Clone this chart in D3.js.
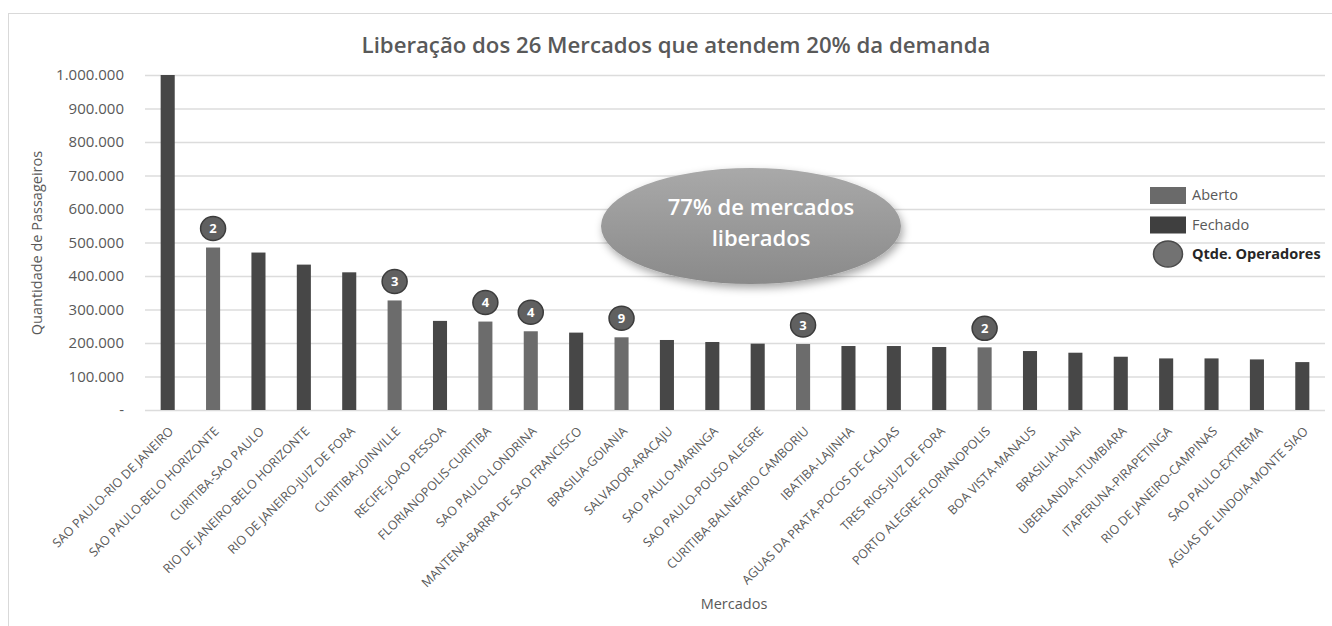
<!DOCTYPE html>
<html>
<head>
<meta charset="utf-8">
<script src="https://cdn.jsdelivr.net/npm/d3@7"></script>
<style>
  html, body { margin: 0; padding: 0; background: #ffffff; }
  svg { display: block; font-family: "Open Sans", "DejaVu Sans", sans-serif; }
</style>
</head>
<body>
<svg id="chart" width="1332" height="626"></svg>
<script>
// Markets ordered by passenger volume
const mercados = [
  "SAO PAULO-RIO DE JANEIRO", "SAO PAULO-BELO HORIZONTE", "CURITIBA-SAO PAULO",
  "RIO DE JANEIRO-BELO HORIZONTE", "RIO DE JANEIRO-JUIZ DE FORA", "CURITIBA-JOINVILLE",
  "RECIFE-JOAO PESSOA", "FLORIANOPOLIS-CURITIBA", "SAO PAULO-LONDRINA",
  "MANTENA-BARRA DE SAO FRANCISCO", "BRASILIA-GOIANIA", "SALVADOR-ARACAJU",
  "SAO PAULO-MARINGA", "SAO PAULO-POUSO ALEGRE", "CURITIBA-BALNEARIO CAMBORIU",
  "IBATIBA-LAJINHA", "AGUAS DA PRATA-POCOS DE CALDAS", "TRES RIOS-JUIZ DE FORA",
  "PORTO ALEGRE-FLORIANOPOLIS", "BOA VISTA-MANAUS", "BRASILIA-UNAI",
  "UBERLANDIA-ITUMBIARA", "ITAPERUNA-PIRAPETINGA", "RIO DE JANEIRO-CAMPINAS",
  "SAO PAULO-EXTREMA", "AGUAS DE LINDOIA-MONTE SIAO"
];

// Passengers per market
const passageiros = [
  1000000, 485000, 470000, 434000, 411000, 327000,
  266000, 264000, 235000, 231000, 217000, 209000,
  203000, 198000, 197000, 191000, 191000, 188000,
  187000, 176000, 171000, 159000, 154000, 154000,
  151000, 143000
];

// Market status: "Aberto" (released) or "Fechado" (closed)
const situacao = [
  "Fechado", "Aberto", "Fechado", "Fechado", "Fechado", "Aberto",
  "Fechado", "Aberto", "Aberto", "Fechado", "Aberto", "Fechado",
  "Fechado", "Fechado", "Aberto", "Fechado", "Fechado", "Fechado",
  "Aberto", "Fechado", "Fechado", "Fechado", "Fechado", "Fechado",
  "Fechado", "Fechado"
];

// Number of operators on released markets
const operadores = [
  null, 2, null, null, null, 3,
  null, 4, 4, null, 9, null,
  null, null, 3, null, null, null,
  2, null, null, null, null, null,
  null, null
];

const yTickValues = [0, 100000, 200000, 300000, 400000, 500000, 600000, 700000, 800000, 900000, 1000000];
const yTickLabels = ["-", "100.000", "200.000", "300.000", "400.000", "500.000", "600.000", "700.000", "800.000", "900.000", "1.000.000"];

const legendItems = ["Aberto", "Fechado", "Qtde. Operadores"];

const titulo = "Liberação dos 26 Mercados que atendem 20% da demanda";
const destaque = ["77% de mercados", "liberados"];

const cores = { Aberto: "#6c6c6c", Fechado: "#474747" };
const textColor = "#595959";

const svg = d3.select("#chart");
const margin = { left: 145, right: 1325, top: 75, bottom: 410 };

// Outer chart frame
svg.append("rect")
  .attr("x", 8.5).attr("y", 13.5)
  .attr("width", 1400).attr("height", 700)
  .attr("fill", "none").attr("stroke", "#d9d9d9").attr("stroke-width", 1);

const x = d3.scaleBand()
  .domain(mercados)
  .range([margin.left, margin.right])
  .paddingInner(0.69)
  .paddingOuter(0.345);

const y = d3.scaleLinear()
  .domain([0, 1000000])
  .range([margin.bottom, margin.top]);

// Gridlines
svg.append("g")
  .selectAll("line")
  .data(yTickValues)
  .join("line")
  .attr("x1", margin.left).attr("x2", margin.right)
  .attr("y1", d => y(d) + 0.5).attr("y2", d => y(d) + 0.5)
  .attr("stroke", "#dcdcdc").attr("stroke-width", 1.5);

// Y axis labels
const yAxis = d3.axisLeft(y)
  .tickValues(yTickValues)
  .tickFormat((d, i) => yTickLabels[i])
  .tickSize(0)
  .tickPadding(0);
const gy = svg.append("g").attr("transform", "translate(124,0)").call(yAxis);
gy.select(".domain").remove();
gy.selectAll("text")
  .attr("fill", textColor)
  .style("font-size", "15px")
  .style("font-family", "'Open Sans', sans-serif");

// X axis labels, rotated
const xAxis = d3.axisBottom(x).tickSize(0).tickPadding(0);
const gx = svg.append("g").attr("transform", `translate(0,${margin.bottom})`).call(xAxis);
gx.select(".domain").remove();
gx.selectAll(".tick text")
  .attr("fill", textColor)
  .style("font-size", "12.5px")
  .style("font-family", "'Open Sans', sans-serif")
  .attr("text-anchor", "end")
  .attr("dy", 0)
  .attr("y", 0)
  .attr("transform", "translate(6.5,22) rotate(-45)");

// Bars
const data = mercados.map((m, i) => ({ m, v: passageiros[i], s: situacao[i], o: operadores[i] }));
svg.append("g")
  .selectAll("rect")
  .data(data)
  .join("rect")
  .attr("x", d => x(d.m))
  .attr("width", x.bandwidth())
  .attr("y", d => y(d.v))
  .attr("height", d => y(0) - y(d.v))
  .attr("fill", d => cores[d.s]);

// Operator count markers
const marks = svg.append("g")
  .selectAll("g")
  .data(data.filter(d => d.o !== null))
  .join("g")
  .attr("transform", d => `translate(${x(d.m) + x.bandwidth() / 2},${y(d.v) - 19})`);
marks.append("ellipse")
  .attr("rx", 12.5).attr("ry", 12)
  .attr("fill", "#606060")
  .attr("stroke", "#3c3c3c").attr("stroke-width", 1.5);
marks.append("text")
  .attr("text-anchor", "middle")
  .attr("dy", "0.36em")
  .attr("fill", "#ffffff")
  .style("font-size", "13px")
  .style("font-weight", "700")
  .text(d => d.o);

// Title
svg.append("text")
  .attr("x", 676).attr("y", 53)
  .attr("text-anchor", "middle")
  .attr("fill", textColor)
  .style("font-size", "22.2px")
  .style("font-weight", "600")
  .text(titulo);

// Axis titles
svg.append("text")
  .attr("transform", "translate(42,243) rotate(-90)")
  .attr("text-anchor", "middle")
  .attr("fill", textColor)
  .style("font-size", "14.5px")
  .text("Quantidade de Passageiros");

svg.append("text")
  .attr("x", 734).attr("y", 609)
  .attr("text-anchor", "middle")
  .attr("fill", textColor)
  .style("font-size", "14.5px")
  .text("Mercados");

// Highlight callout
const defs = svg.append("defs");
const grad = defs.append("linearGradient")
  .attr("id", "calloutFill").attr("x1", 0).attr("y1", 0).attr("x2", 0).attr("y2", 1);
grad.append("stop").attr("offset", "0%").attr("stop-color", "#a9a9a9");
grad.append("stop").attr("offset", "100%").attr("stop-color", "#8a8a8a");
const shadow = defs.append("filter").attr("id", "calloutShadow")
  .attr("x", "-20%").attr("y", "-20%").attr("width", "140%").attr("height", "150%");
shadow.append("feDropShadow")
  .attr("dx", 2).attr("dy", 4).attr("stdDeviation", 4)
  .attr("flood-color", "#000").attr("flood-opacity", 0.35);

svg.append("ellipse")
  .attr("cx", 751).attr("cy", 226)
  .attr("rx", 150).attr("ry", 58)
  .attr("fill", "url(#calloutFill)")
  .attr("filter", "url(#calloutShadow)");

svg.append("g")
  .selectAll("text")
  .data(destaque)
  .join("text")
  .attr("x", 761)
  .attr("y", (d, i) => 215 + i * 31)
  .attr("text-anchor", "middle")
  .attr("fill", "#ffffff")
  .style("font-size", "22px")
  .style("font-weight", "600")
  .text(d => d);

// Legend
const legend = svg.append("g").attr("transform", "translate(1150,187)");
legendItems.forEach((name, i) => {
  const cy = 8 + i * 29.5;
  if (i < 2) {
    legend.append("rect")
      .attr("x", 0).attr("y", cy - 8)
      .attr("width", 36).attr("height", 17)
      .attr("fill", i === 0 ? "#6a6a6a" : "#3f3f3f");
  } else {
    legend.append("ellipse")
      .attr("cx", 18).attr("cy", cy)
      .attr("rx", 14.5).attr("ry", 13)
      .attr("fill", "#727272")
      .attr("stroke", "#4a4a4a").attr("stroke-width", 1.5);
  }
  legend.append("text")
    .attr("x", 42).attr("y", cy)
    .attr("dy", "0.35em")
    .attr("fill", i === 2 ? "#262626" : textColor)
    .style("font-size", "14.5px")
    .style("font-weight", i === 2 ? "700" : "400")
    .text(name);
});
</script>
</body>
</html>
